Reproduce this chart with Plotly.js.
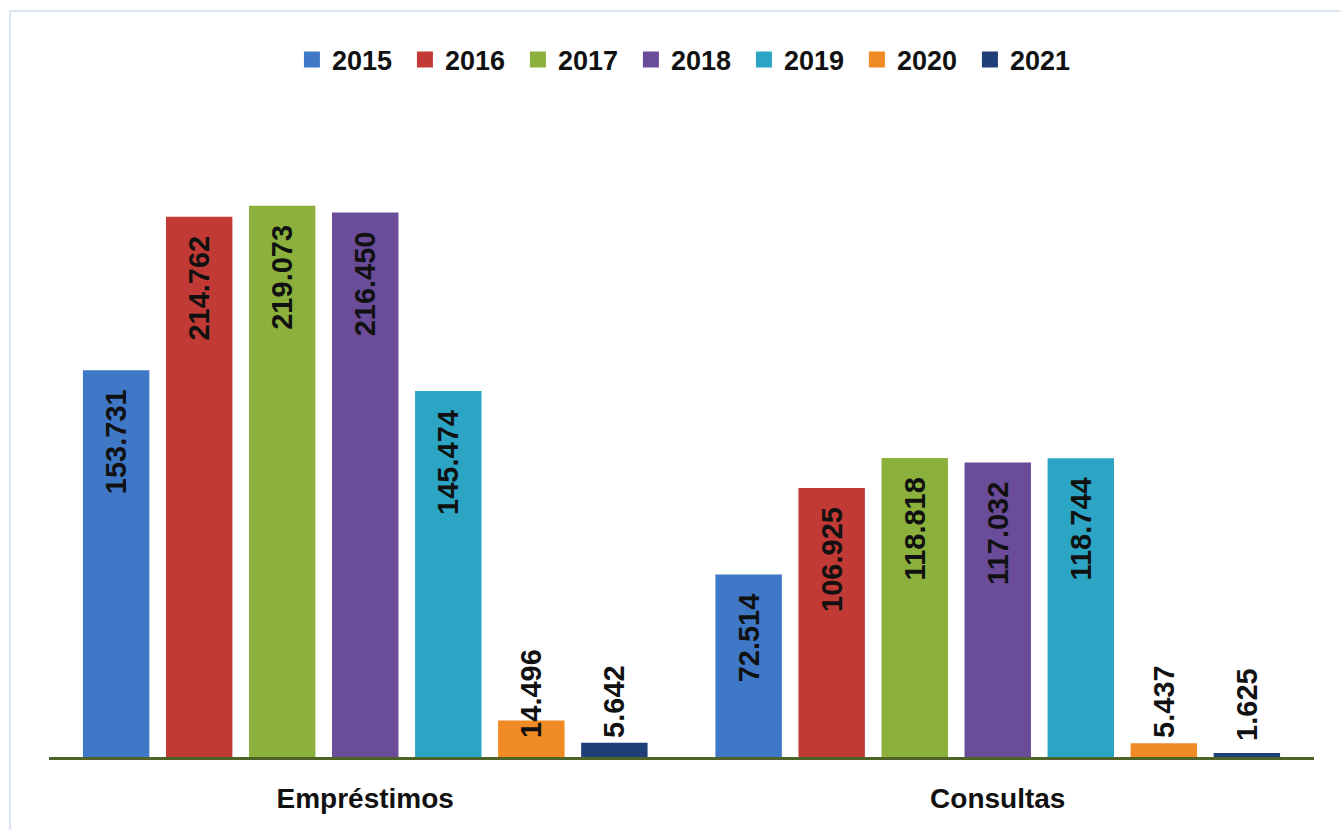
<!DOCTYPE html>
<html><head><meta charset="utf-8">
<script src="https://cdn.plot.ly/plotly-3.0.1.min.js"></script>
<style>
body{margin:0;background:#fff;}
#wrap{position:relative;width:1340px;height:830px;overflow:hidden;}
#frame{position:absolute;left:9px;top:10px;width:1340px;height:830px;border:2px solid #dbe5f1;box-sizing:border-box;pointer-events:none;}
#chart{position:absolute;left:0;top:0;width:1340px;height:830px;}
</style></head>
<body><div id="wrap"><div id="chart"></div><div id="frame"></div></div>
<script>
const categories = ["Empréstimos", "Consultas"];
const years = ["2015", "2016", "2017", "2018", "2019", "2020", "2021"];
const values2015 = [153731, 72514];
const values2016 = [214762, 106925];
const values2017 = [219073, 118818];
const values2018 = [216450, 117032];
const values2019 = [145474, 118744];
const values2020 = [14496, 5437];
const values2021 = [5642, 1625];
const labels2015 = ["153.731", "72.514"];
const labels2016 = ["214.762", "106.925"];
const labels2017 = ["219.073", "118.818"];
const labels2018 = ["216.450", "117.032"];
const labels2019 = ["145.474", "118.744"];
const labels2020 = ["14.496", "5.437"];
const labels2021 = ["5.642", "1.625"];
const colors = ["#3f78c6", "#c13a35", "#8bb13c", "#6b4c9a", "#2ba5c3", "#f08a24", "#1f3f78"];

const series = [values2015, values2016, values2017, values2018, values2019, values2020, values2021];
const labels = [labels2015, labels2016, labels2017, labels2018, labels2019, labels2020, labels2021];

const font = "Liberation Sans, Arial, sans-serif";
const PAD = "\u00a0\u00a0";
const barTraces = years.map((y, i) => {
  const small = series[i].every(v => v < 30000);
  return {
    type: "bar",
    name: y,
    showlegend: false,
    legendgroup: y,
    x: categories,
    y: series[i],
    text: labels[i].map(t => small ? PAD + t : t + PAD),
    textposition: "inside",
    insidetextanchor: small ? "start" : "end",
    textangle: -90,
    constraintext: "none",
    cliponaxis: false,
    textfont: {family: font, size: 29, color: "#111", weight: "bold"},
    marker: {color: colors[i], line: {width: 0}},
    hoverinfo: "none"
  };
});
const legendTraces = years.map((y, i) => ({
  type: "scatter", mode: "markers", name: y, legendgroup: y,
  x: [null], y: [null],
  marker: {symbol: "square", size: 16, color: colors[i]},
  hoverinfo: "none"
}));

const layout = {
  width: 1340, height: 830,
  margin: {l: 49, r: 26, t: 128, b: 73, autoexpand: false},
  paper_bgcolor: "#fff", plot_bgcolor: "#fff",
  barmode: "group",
  bargap: 0.081,
  bargroupgap: 0.2,
  showlegend: true,
  legend: {
    orientation: "h", x: 0.513, xanchor: "center", xref: "container",
    y: 1 - 60/830, yanchor: "middle", yref: "container",
    font: {family: font, size: 27, color: "#111", weight: "bold"},
    itemwidth: 30, entrywidth: 68, entrywidthmode: "pixels", traceorder: "normal"
  },
  font: {family: font, weight: "bold"},
  xaxis: {
    type: "category",
    tickfont: {family: font, size: 28, color: "#111", weight: "bold"},
    showline: true, linecolor: "#4f6228", linewidth: 3,
    ticks: "", ticklen: 0, ticklabelstandoff: 14, showgrid: false, zeroline: false
  },
  yaxis: {
    range: [0, 250000], visible: false, showgrid: false, zeroline: false
  }
};
Plotly.newPlot("chart", barTraces.concat(legendTraces), layout, {displayModeBar: false, staticPlot: true});
</script></body></html>
